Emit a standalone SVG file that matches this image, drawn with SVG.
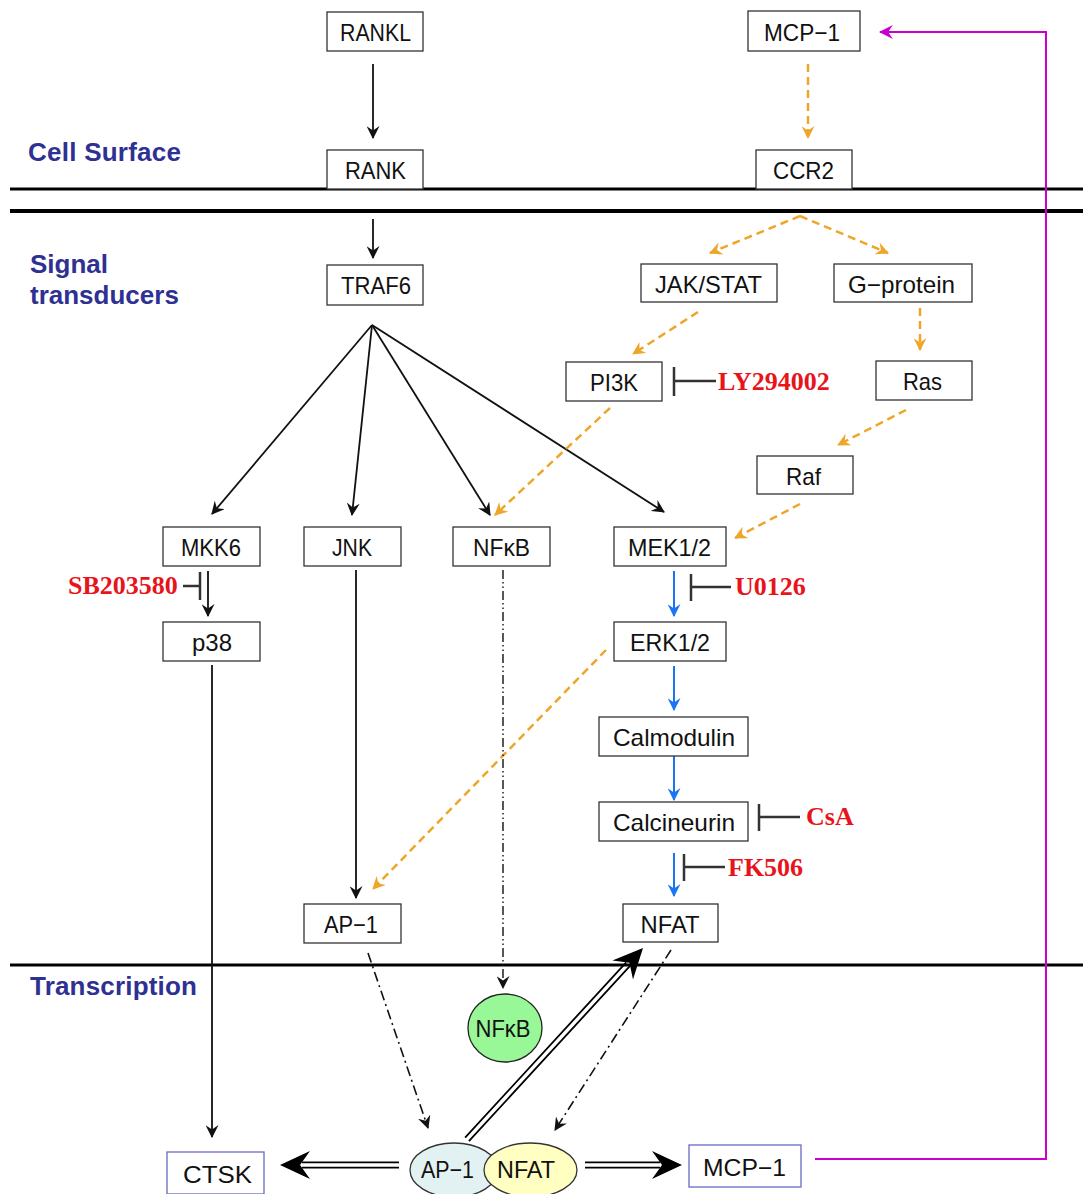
<svg xmlns="http://www.w3.org/2000/svg" width="1083" height="1194" viewBox="0 0 1083 1194">
<defs>
<style>
.box{fill:#fff;stroke:#333;stroke-width:1.3}
.box2{fill:#fff;stroke:#6a6ac0;stroke-width:1.3}
.t{font-family:"Liberation Sans",Arial,sans-serif;font-size:24px;fill:#111;text-anchor:middle}
.h{font-family:"Liberation Sans",Arial,sans-serif;font-size:26px;font-weight:bold;fill:#2e3192}
.inh{font-family:"Liberation Serif","Times New Roman",serif;font-size:26px;font-weight:bold;fill:#e8141b}
.blk{stroke:#111;stroke-width:1.8;fill:none}
.org{stroke:#eea628;stroke-width:2.5;fill:none;stroke-dasharray:8 5}
.blu{stroke:#1a74f5;stroke-width:2;fill:none}
.dd{stroke:#111;stroke-width:1.6;fill:none;stroke-dasharray:10 4 2 4}
.ddd{stroke:#111;stroke-width:1.4;fill:none;stroke-dasharray:9 3 1.5 3 1.5 3}
.bar{stroke:#333;stroke-width:2.5;fill:none}
.mem{stroke:#000;fill:none}
</style>
<marker id="ab" viewBox="0 0 12 12" refX="11" refY="6" markerWidth="13" markerHeight="13" markerUnits="userSpaceOnUse" orient="auto">
<path d="M0,0 L12,6 L0,12 L4,6 z" fill="#111"/>
</marker>
<marker id="ao" viewBox="0 0 12 12" refX="11" refY="6" markerWidth="13" markerHeight="13" markerUnits="userSpaceOnUse" orient="auto">
<path d="M0,0 L12,6 L0,12 L4,6 z" fill="#eea628"/>
</marker>
<marker id="au" viewBox="0 0 12 12" refX="11" refY="6" markerWidth="13" markerHeight="13" markerUnits="userSpaceOnUse" orient="auto">
<path d="M0,0 L12,6 L0,12 L4,6 z" fill="#1a74f5"/>
</marker>
<marker id="am" viewBox="0 0 12 12" refX="11" refY="6" markerWidth="14" markerHeight="14" markerUnits="userSpaceOnUse" orient="auto">
<path d="M0,0 L12,6 L0,12 L4,6 z" fill="#cc00cc"/>
</marker>
<g id="dbl">
<path d="M0,0 L-30,-14 L-20,0 L-30,14 z" fill="#000"/>
</g>
</defs>

<rect width="1083" height="1194" fill="#fff"/>

<g id="sections">
<line class="mem" x1="10" y1="189" x2="1083" y2="189" stroke-width="3"/>
<line class="mem" x1="10" y1="211" x2="1083" y2="211" stroke-width="4"/>
<line class="mem" x1="10" y1="965" x2="1083" y2="965" stroke-width="3"/>
<text class="h" x="28" y="161" textLength="153">Cell Surface</text>
<text class="h" x="30" y="273">Signal</text>
<text class="h" x="30" y="304">transducers</text>
<text class="h" x="30" y="995" textLength="167">Transcription</text>
</g>

<g id="connectors">
<line class="blk" x1="373" y1="64" x2="373" y2="138" marker-end="url(#ab)"/>
<line class="blk" x1="373" y1="219" x2="373" y2="258" marker-end="url(#ab)"/>
<line class="blk" x1="372" y1="325" x2="212" y2="514" marker-end="url(#ab)"/>
<line class="blk" x1="372" y1="325" x2="352" y2="515" marker-end="url(#ab)"/>
<line class="blk" x1="372" y1="325" x2="490" y2="515" marker-end="url(#ab)"/>
<line class="blk" x1="372" y1="325" x2="664" y2="512" marker-end="url(#ab)"/>
<line class="blk" x1="208" y1="571" x2="208" y2="616" marker-end="url(#ab)"/>
<line class="blk" x1="356" y1="570" x2="356" y2="898" marker-end="url(#ab)"/>
<line class="blk" x1="212" y1="665" x2="212" y2="1137" marker-end="url(#ab)"/>

<line class="org" x1="808" y1="64" x2="808" y2="138" marker-end="url(#ao)"/>
<line class="org" x1="800" y1="216" x2="710" y2="253" marker-end="url(#ao)"/>
<line class="org" x1="800" y1="216" x2="888" y2="253" marker-end="url(#ao)"/>
<line class="org" x1="698" y1="312" x2="633" y2="354" marker-end="url(#ao)"/>
<line class="org" x1="920" y1="308" x2="920" y2="350" marker-end="url(#ao)"/>
<line class="org" x1="906" y1="410" x2="838" y2="445" marker-end="url(#ao)"/>
<line class="org" x1="800" y1="504" x2="735" y2="538" marker-end="url(#ao)"/>
<line class="org" x1="610" y1="408" x2="495" y2="515" marker-end="url(#ao)"/>
<line class="org" x1="606" y1="650" x2="373" y2="889" marker-end="url(#ao)"/>

<line class="blu" x1="674" y1="571" x2="674" y2="616" marker-end="url(#au)"/>
<line class="blu" x1="674" y1="666" x2="674" y2="710" marker-end="url(#au)"/>
<line class="blu" x1="674" y1="756" x2="674" y2="800" marker-end="url(#au)"/>
<line class="blu" x1="674" y1="853" x2="674" y2="896" marker-end="url(#au)"/>

<line class="ddd" x1="503" y1="570" x2="503" y2="988" marker-end="url(#ab)"/>
<line class="dd" x1="368" y1="953" x2="428" y2="1128" marker-end="url(#ab)"/>
<line class="dd" x1="671" y1="950" x2="555" y2="1130" marker-end="url(#ab)"/>

<use href="#dbl" transform="translate(280,1165) rotate(180)"/>
<use href="#dbl" transform="translate(682,1165)"/>
<use href="#dbl" transform="translate(643,948) rotate(-47.4)"/>
<path d="M399,1162.4 H302 M399,1167.6 H302" stroke="#000" stroke-width="1.8" fill="none"/>
<path d="M585,1162.4 H660 M585,1167.6 H660" stroke="#000" stroke-width="1.8" fill="none"/>
<g transform="translate(643,948) rotate(-47.4)">
<path d="M-260,-2.6 H-22 M-260,2.6 H-22" stroke="#000" stroke-width="1.8" fill="none"/>
</g>

<polyline points="815,1159 1046,1159 1046,32 880,32" fill="none" stroke="#cc00cc" stroke-width="2" marker-end="url(#am)"/>

<path class="bar" d="M674,367 V396 M674,381 H716"/>
<path class="bar" d="M200,572 V600 M183,586 H200"/>
<path class="bar" d="M691,574 V601 M691,587 H731"/>
<path class="bar" d="M759,804 V831 M759,817 H800"/>
<path class="bar" d="M684,854 V881 M684,867 H725"/>
</g>

<text class="inh" x="718" y="390">LY294002</text>
<text class="inh" x="68" y="594">SB203580</text>
<text class="inh" x="735" y="595">U0126</text>
<text class="inh" x="806" y="825">CsA</text>
<text class="inh" x="728" y="876">FK506</text>

<g id="RANKL"><rect class="box" x="327" y="12" width="96" height="39"/><text class="t" x="375.5" y="41" textLength="71" lengthAdjust="spacingAndGlyphs">RANKL</text></g>
<g id="RANK"><rect class="box" x="327" y="150" width="96" height="39"/><text class="t" x="375.5" y="179" textLength="61" lengthAdjust="spacingAndGlyphs">RANK</text></g>
<g id="MCP1top"><rect class="box" x="748" y="11" width="112" height="40"/><text class="t" x="802" y="41" textLength="76" lengthAdjust="spacingAndGlyphs">MCP−1</text></g>
<g id="CCR2"><rect class="box" x="756" y="150" width="96" height="39"/><text class="t" x="803.5" y="179" textLength="61" lengthAdjust="spacingAndGlyphs">CCR2</text></g>
<g id="TRAF6"><rect class="box" x="327" y="265" width="96" height="40"/><text class="t" x="376" y="294" textLength="70" lengthAdjust="spacingAndGlyphs">TRAF6</text></g>
<g id="JAKSTAT"><rect class="box" x="641" y="264" width="136" height="38"/><text class="t" x="708.5" y="293" textLength="107" lengthAdjust="spacingAndGlyphs">JAK/STAT</text></g>
<g id="Gprotein"><rect class="box" x="834" y="264" width="138" height="38"/><text class="t" x="901.5" y="293" textLength="107" lengthAdjust="spacingAndGlyphs">G−protein</text></g>
<g id="PI3K"><rect class="box" x="566" y="362" width="96" height="39"/><text class="t" x="614" y="391" textLength="48" lengthAdjust="spacingAndGlyphs">PI3K</text></g>
<g id="Ras"><rect class="box" x="876" y="361" width="96" height="39"/><text class="t" x="922.5" y="390" textLength="39" lengthAdjust="spacingAndGlyphs">Ras</text></g>
<g id="Raf"><rect class="box" x="757" y="456" width="96" height="38"/><text class="t" x="803.5" y="485" textLength="35" lengthAdjust="spacingAndGlyphs">Raf</text></g>
<g id="MKK6"><rect class="box" x="163" y="527" width="97" height="39"/><text class="t" x="211" y="556" textLength="60" lengthAdjust="spacingAndGlyphs">MKK6</text></g>
<g id="JNK"><rect class="box" x="304" y="527" width="97" height="39"/><text class="t" x="352" y="556" textLength="40" lengthAdjust="spacingAndGlyphs">JNK</text></g>
<g id="NFkB"><rect class="box" x="453" y="527" width="97" height="39"/><text class="t" x="501.5" y="556" textLength="57" lengthAdjust="spacingAndGlyphs">NFκB</text></g>
<g id="MEK"><rect class="box" x="614" y="527" width="112" height="39"/><text class="t" x="669.5" y="556" textLength="83" lengthAdjust="spacingAndGlyphs">MEK1/2</text></g>
<g id="p38"><rect class="box" x="163" y="622" width="97" height="39"/><text class="t" x="212" y="651" textLength="40" lengthAdjust="spacingAndGlyphs">p38</text></g>
<g id="ERK"><rect class="box" x="614" y="622" width="112" height="39"/><text class="t" x="670" y="651" textLength="80" lengthAdjust="spacingAndGlyphs">ERK1/2</text></g>
<g id="Calmodulin"><rect class="box" x="599" y="717" width="149" height="39"/><text class="t" x="674" y="746" textLength="122" lengthAdjust="spacingAndGlyphs">Calmodulin</text></g>
<g id="Calcineurin"><rect class="box" x="599" y="802" width="149" height="39"/><text class="t" x="674" y="831" textLength="122" lengthAdjust="spacingAndGlyphs">Calcineurin</text></g>
<g id="AP1box"><rect class="box" x="304" y="904" width="97" height="39"/><text class="t" x="351" y="933" textLength="54" lengthAdjust="spacingAndGlyphs">AP−1</text></g>
<g id="NFATbox"><rect class="box" x="623" y="904" width="95" height="38"/><text class="t" x="670" y="933" textLength="59" lengthAdjust="spacingAndGlyphs">NFAT</text></g>
<g id="NFkBnuc"><ellipse cx="505" cy="1028" rx="37" ry="34" fill="#98f898" stroke="#222" stroke-width="1.3"/><text class="t" x="503" y="1037" textLength="55" lengthAdjust="spacingAndGlyphs">NFκB</text></g>
<g id="AP1nuc"><ellipse cx="454" cy="1170" rx="44" ry="27" fill="#e2f1f1" stroke="#333" stroke-width="1.3"/><text class="t" x="447.5" y="1178" textLength="53" lengthAdjust="spacingAndGlyphs">AP−1</text></g>
<g id="NFATnuc"><ellipse cx="530.5" cy="1170" rx="46.5" ry="27" fill="#ffffc2" stroke="#333" stroke-width="1.3"/><text class="t" x="526" y="1178" textLength="58" lengthAdjust="spacingAndGlyphs">NFAT</text></g>
<g id="CTSK"><rect class="box2" x="167" y="1152" width="97" height="42"/><text class="t" x="217.5" y="1183" textLength="69" lengthAdjust="spacingAndGlyphs">CTSK</text></g>
<g id="MCP1bot"><rect class="box2" x="689" y="1145" width="112" height="42"/><text class="t" x="744.5" y="1176" textLength="83" lengthAdjust="spacingAndGlyphs">MCP−1</text></g>
</svg>
